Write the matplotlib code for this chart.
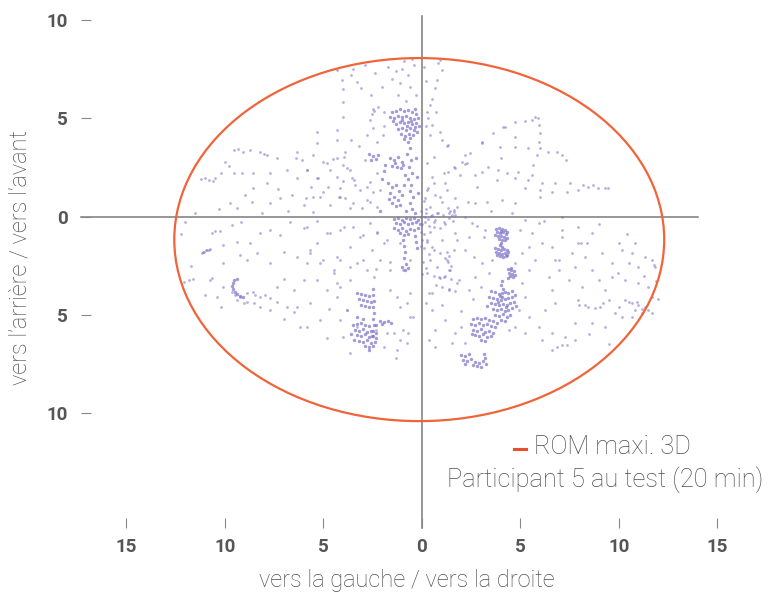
import matplotlib
matplotlib.use("Agg")
import matplotlib.pyplot as plt
from matplotlib.patches import Ellipse
from matplotlib.lines import Line2D

plt.rcParams['font.family'] = ['Roboto', 'DejaVu Sans']

# ---------------- data (in chart units) ----------------
x_ticks = [-15, -10, -5, 0, 5, 10, 15]
x_tick_labels = ['15', '10', '5', '0', '5', '10', '15']
y_ticks = [-10, -5, 0, 5, 10]
y_tick_labels = ['10', '5', '0', '5', '10']

rom_center = (-0.13, -1.17)
rom_width = 24.87
rom_height = 18.48

pts_top = [(-4.3,7.45),(-4.05,6.95),(-3.98,6.5),(-3.6,7.2),(-3.3,6.85),(-3.1,6.55),(-3.98,5.85),(-2.6,6.2),
           (-2.4,7.3),(-2.0,6.6),(-1.7,7.6),(-1.5,7.0),(-1.3,7.4),(-1.1,6.8),(-0.9,7.9),(-0.7,7.2),(-0.6,6.6),
           (-0.4,7.7),(-0.3,6.2),(-1.2,6.2),(-0.8,5.9),(-2.2,5.6),(-1.9,5.3),(0.94,7.96),(0.84,7.8),(1.02,7.45),
           (0.77,6.95),(0.69,6.52),(0.52,6.0),(0.43,5.67),(0.26,5.32),(0.33,5.0),(0.52,4.66),(0.43,4.15),
           (-2.5,5.5),(-2.45,5.35),(-2.55,5.2),(-3.5,7.5),(-2.9,7.7),(-1.0,7.5),(-0.5,8.0),(0.1,7.6),(0.2,6.9),
           (-5.32,4.32),(-4.3,4.4),(-3.98,5.08),(-2.61,4.91),(-2.5,4.5),(-2.78,4.15),(-2.27,3.8),(-3.2,3.6),
           (-3.6,3.9),(-1.95,4.15),(-1.9,4.6),(0.2,4.6),(0.7,5.3),(0.9,4.3),(1.0,3.9)]

pts_upper_left = [(-9.55,3.4),(-9.35,3.45),(-9.1,3.3),(-8.7,3.38),(-8.2,3.3),(-7.86,3.13),(-7.35,2.97),
                  (-6.33,3.3),(-6.4,3.0),(-5.32,3.74),(-4.3,3.89),(-5.5,3.13),(-5.83,2.37),(-6.84,2.37),
                  (-7.69,2.2),(-8.55,2.2),(-9.13,2.2),(-9.55,2.2),(-10.2,2.2),(-10.5,1.96),(-10.8,1.86),
                  (-10.6,1.8),(-9.97,2.79),(-9.8,2.6),(-9.72,0.69),(-9.4,0.43),(-8.62,0.75),(-7.69,0.69),
                  (-7.18,0.94),(-6.6,1.09),(-5.9,0.94),(-5.5,1.01),(-5.0,1.26),(-4.75,1.52),(-4.14,1.45),
                  (-8.55,1.45),(-7.86,1.7),(-6.33,1.96),(-5.32,1.96),(-4.64,2.37),(-4.3,2.97),(-3.88,3.3),
                  (-3.98,2.62),(-3.63,2.37),(-3.54,1.96),(-3.38,1.6),(-3.98,1.8),(-4.22,1.01),(-3.9,0.94),
                  (-3.47,0.69),(-3.04,0.43),(-2.61,0.75),(-2.46,1.26),(-2.8,1.5),(-11.2,1.9),(-11.0,1.95),
                  (-10.3,0.4),(-11.5,0.2),(-12.0,-0.3),(-8.0,3.2),(-6.1,2.9),(-5.0,2.8),(-4.5,2.95),
                  (-5.83,2.37),(-5.25,1.96),(-5.6,1.53),(-4.8,2.71),(-4.3,2.03),(-3.8,2.46),(-3.46,1.87),
                  (-4.14,1.02),(-3.63,0.42),(-3.12,1.36),(-2.78,0.85),(-2.61,1.78),(-2.27,2.2),(-2.1,1.36),
                  (-2.27,0.51),(-2.86,2.88),(-3.97,3.05),(-5.15,1.02),(-4.65,0.59),(-6.0,0.59),(-5.5,0.25),
                  (-6.8,0.3),(-8.1,0.2),(-9.0,1.1),(-7.3,1.4)]

pts_lower_left = [(-11.07,-1.79),(-10.9,-1.7),(-10.75,-1.67),(-11.15,-1.87),(-10.65,-0.82),(-10.5,-0.75),
                  (-10.25,-0.75),(-9.63,-0.43),(-9.2,-0.3),(-10.07,-1.45),(-9.38,-1.28),(-8.7,-1.35),
                  (-8.2,-0.85),(-7.7,-0.7),(-7.18,-0.94),(-6.67,-0.3),(-6.0,-0.6),(-5.33,-0.2),(-4.8,-0.85),
                  (-4.15,-0.7),(-3.47,-0.52),(-3.0,-0.95),(-2.27,-0.77),(-1.75,-1.2),(-1.09,-1.35),
                  (-10.07,-2.37),(-9.21,-1.96),(-8.85,-2.2),(-8.37,-1.86),(-7.69,-2.37),(-7.0,-1.79),
                  (-6.33,-2.05),(-5.66,-1.7),(-5.83,-2.37),(-5.0,-2.21),(-4.3,-2.05),(-4.48,-2.7),
                  (-3.63,-2.55),(-3.0,-2.2),(-2.3,-2.65),(-1.6,-2.3),(-0.94,-2.72),(-0.6,-2.2),
                  (-12.09,-3.32),(-11.83,-3.25),(-11.6,-3.2),(-10.74,-3.23),(-10.65,-3.1),(-9.63,-3.83),
                  (-9.47,-4.0),(-9.21,-4.1),(-8.87,-3.9),(-8.55,-3.83),(-8.45,-4.0),(-8.2,-4.1),(-8.87,-4.33),
                  (-8.54,-4.42),(-7.95,-4.0),(-7.69,-4.15),(-7.35,-4.33),(-7.35,-3.57),(-7.0,-3.2),
                  (-6.5,-3.74),(-6.33,-4.6),(-5.66,-4.42),(-5.83,-5.6),(-5.16,-5.27),(-4.8,-3.74),
                  (-4.3,-4.07),(-3.8,-4.76),(-5.33,-3.25),(-6.0,-3.25),(-4.72,-4.68),(-6.84,-4.6),
                  (-7.69,-4.76),(-8.2,-4.6),(-9.04,-4.42),(-9.38,-4.25),(-6.5,-4.84),(-10.07,-3.57),
                  (-10.4,-4.07),(-1.77,-5.94),(-2.3,-5.77),(-3.3,-5.6),(-0.94,-5.77),(-0.6,-5.1),
                  (-1.26,-6.8),(-0.77,-6.45),(-1.09,-4.6),(-4.3,-3.4),(-4.14,-3.6),(-3.63,-3.23),
                  (-2.45,-3.06),(-1.6,-3.74),(-1.26,-4.07),(-0.75,-4.42),(-0.6,-3.9),(-0.43,-5.1),
                  (-1.43,-5.94),(-1.09,-6.28),(-1.94,-6.62),(-3.63,-6.96),(-3.98,-6.11),(-4.14,-5.27),
                  (-3.8,-4.76),(-0.68,-5.94),(-5.83,-0.52),(-5.32,-1.36),(-4.65,-0.86),(-3.97,-0.52),
                  (-3.63,-1.53),(-3.12,-1.02),(-2.61,-0.35),(-2.27,-0.86),(-2.52,-1.7),(-1.92,-1.36),
                  (-4.14,-2.21),(-3.29,-2.38),(-2.78,-2.72),(-2.1,-2.21),(-1.6,-2.72),(-5.15,-2.38),
                  (-4.48,-2.89),(-5.66,-1.87),(-11.1,-1.8),(-10.95,-1.72),(-10.8,-1.68),(-12.2,-0.9),
                  (-11.7,-2.5),(-11.0,-4.0),(-10.2,-4.6),(-7.0,-5.2),(-6.2,-5.6),(-4.8,-6.2),(-1.3,-7.2)]

pts_center = [(0.26,1.35),(0.6,1.7),(0.94,1.02),(1.28,1.36),(1.62,0.34),(1.78,0.51),(1.7,0.08),(0.43,0.51),
              (0.77,0.17),(0.17,0.0),(0.6,-0.52),(1.11,-0.27),(0.26,-1.19),(0.6,-1.7),(0.94,-1.87),
              (1.28,-2.21),(0.77,-2.55),(0.43,-2.21),(1.45,-2.72),(1.11,-3.06),(0.26,-2.89),(1.62,-1.7),
              (1.79,-1.19),(0.51,2.03),(1.11,2.2),(1.62,2.54),(0.26,2.71),(0.6,3.05),(1.2,1.7),
              (0.15,-0.3),(0.3,-0.1),(0.45,0.05),(0.2,0.4),(0.1,0.8),(0.35,-0.5),(0.1,-0.9),(0.25,-1.3),
              (0.1,-1.6),(0.35,-1.9),(0.05,-2.3),(0.2,-2.6),(0.0,-2.9),(1.3,-1.8),(1.4,-2.0),(1.35,-2.3),
              (1.5,-2.5),(1.4,-2.7),(1.2,-2.1),(0.6,-3.0),(0.9,-3.1),(1.2,-3.0),(1.5,-3.2),(1.8,-3.4),
              (0.7,-3.5),(1.0,-3.6),(1.4,-3.7),(1.7,-3.8),(0.5,-3.9),(0.2,0.2),(0.5,0.1),(0.8,0.2),
              (1.1,0.1),(1.4,0.2),(1.6,-0.2),(1.2,-0.4),(0.9,-0.6),(0.6,-0.3),(0.4,-0.8),(1.45,0.3),
              (1.55,0.1),(1.65,0.25),(-0.05,0.3),(-0.05,0.0),(0.0,-0.4),(-0.05,-0.8),(0.0,-1.2),(-0.05,-1.5),
              (0.69,-0.18),(1.36,-0.09),(2.21,-0.01),(2.55,-0.35),(3.22,-0.69),(3.14,-1.03),(2.38,-1.03),
              (1.7,-0.86),(1.02,-1.2),(0.52,-1.54),(2.21,-1.7),(2.63,-2.04),(3.05,-2.38),(3.56,-2.21),
              (3.39,-2.89),(2.72,-3.06),(2.38,-3.74),(1.87,-3.23),(1.36,-3.74),(0.85,-3.06),(0.34,-3.91),
              (0.52,-4.76),(1.19,-5.27),(0.69,-5.77),(1.7,-5.94),(1.53,-6.45),(0.69,-6.62),(2.21,-6.45),
              (0.34,-6.28),(0.2,-4.4),(1.0,-4.5),(2.0,-4.8),(2.6,-4.2),(3.0,-3.6),(2.0,-5.6)]

pts_right = [(5.76,5.08),(5.9,5.0),(5.59,4.9),(5.25,4.86),(4.75,4.83),(4.24,4.57),(3.63,4.25),(3.06,3.8),
             (5.96,4.66),(6.0,4.25),(5.96,3.8),(6.0,3.48),(5.85,3.13),(5.66,2.62),(6.86,3.3),(7.12,3.13),
             (7.3,2.88),(6.42,3.3),(9.47,1.45),(9.31,1.47),(8.96,1.45),(8.7,1.6),(8.2,1.6),(7.54,1.7),
             (6.78,1.7),(6.1,1.7),(5.4,1.86),(4.75,1.96),(3.89,2.37),(3.38,2.53),(2.21,3.13),(2.04,2.79),
             (2.2,2.7),(2.3,2.75),(1.35,3.64),(1.28,3.6),(4.14,4.57),(4.75,4.06),(3.98,3.55),(4.75,3.55),
             (5.4,3.48),(3.05,3.74),(2.46,3.23),(1.7,2.47),(1.35,2.28),(1.95,2.11),(2.72,2.11),(3.06,2.28),
             (3.82,1.86),(4.33,2.2),(4.9,2.28),(5.59,2.11),(5.25,1.45),(6.02,1.35),(6.6,1.26),(7.37,1.26),
             (7.95,1.35),(8.45,1.52),(3.31,0.75),(4.07,0.84),(4.75,0.69),(6.02,1.01),(1.7,0.94),(2.36,0.75),
             (2.72,0.69),(0.69,1.09),(1.02,0.75),(1.35,0.43),(0.33,1.45),(0.18,0.94),(4.0,3.0),(2.8,1.5),
             (4.75,-2.38),(5.09,-1.87),(5.43,-1.53),(5.0,-0.69),(5.6,-0.86),(5.93,-0.35),(5.25,-0.18),
             (6.1,-1.36),(5.76,-2.21),(5.43,-2.72),(5.09,-3.4),(5.26,-4.07),(4.92,-4.76),(5.43,-5.1),
             (4.75,-5.6),(4.41,-5.77),(5.26,-5.94),(5.93,-5.6),(6.1,-6.28),(6.6,-5.94),(6.27,-4.76),
             (6.78,-4.42),(6.6,-3.74),(6.44,-3.06),(6.95,-2.72),(6.78,-2.21),(6.6,-1.53),(7.12,-1.03),
             (7.12,-0.69),(7.95,-1.36),(8.1,-1.36),(8.37,-1.36),(7.62,-1.87),(8.28,-2.04),(7.79,-2.55),
             (8.63,-2.72),(7.45,-3.23),(8.12,-3.57),(7.95,-4.25),(8.28,-4.5),(8.46,-4.58),(8.8,-4.67),
             (9.06,-4.58),(9.48,-4.25),(9.31,-3.74),(8.97,-3.23),(9.65,-3.06),(9.98,-2.89),(9.65,-2.38),
             (10.16,-1.7),(10.67,-1.87),(11.35,-2.04),(11.7,-2.21),(11.77,-2.47),(11.85,-2.55),(11.0,-2.55),
             (10.5,-2.38),(10.33,-3.23),(11.0,-3.4),(11.5,-3.57),(11.68,-4.07),(10.33,-4.25),(10.5,-4.33),
             (10.67,-4.42),(11.0,-4.5),(11.35,-4.58),(11.5,-4.76),(11.18,-4.93),(10.84,-4.76),(10.0,-4.58),
             (9.82,-4.93),(10.16,-5.1),(10.67,-5.1),(11.68,-4.93),(9.31,-5.6),(8.63,-5.43),(7.79,-5.43),
             (7.28,-6.11),(6.86,-6.62),(7.11,-6.55),(7.37,-6.55),(6.6,-6.79),(7.79,-6.28),(6.95,-2.21),
             (9.14,-1.87),(7.95,-0.52),(8.63,-0.86),(7.12,0.0),(10.0,-1.36),(10.84,-1.36),(9.0,-0.4),
             (10.4,-0.9),(11.3,-3.0),(12.0,-4.2),(11.9,-3.3),(8.0,-4.5),(9.2,-4.4),(10.9,-4.35),(11.2,-4.7),
             (8.5,-6.0),(9.5,-6.5),(6.2,-0.2),(4.6,0.2),(3.5,0.3),(2.8,-0.5)]

blob_top = [(-1.5,5.3),(-1.3,5.4),(-1.1,5.5),(-0.9,5.35),(-0.7,5.45),(-0.5,5.3),(-0.3,5.2),(-1.4,5.0),
            (-1.2,5.1),(-1.0,5.05),(-0.8,5.1),(-0.6,5.0),(-0.4,4.95),(-0.2,5.0),(-1.3,4.7),(-1.1,4.8),
            (-0.9,4.75),(-0.7,4.8),(-0.5,4.7),(-0.3,4.75),(-0.15,4.6),(-1.2,4.45),(-1.0,4.5),(-0.8,4.4),
            (-0.6,4.5),(-0.4,4.4),(-0.25,4.3),(-1.05,4.2),(-0.85,4.1),(-0.65,4.2),(-0.45,4.15),(-0.9,3.95),
            (-0.6,4.0),(-1.6,5.05),(-1.45,4.85),(-0.35,5.5),(-1.0,4.9),(-0.55,4.85),(-0.75,4.6),(-0.35,4.55)]

blob_column = [(-2.7,3.2),(-2.5,3.1),(-2.35,2.95),(-2.6,2.9),(-2.2,3.15),(-1.6,3.0),(-1.4,2.9),(-1.2,3.05),
               (-1.0,2.8),(-1.5,2.6),(-1.25,2.5),(-1.05,2.45),(-1.35,2.75),(-0.95,2.65),(-1.7,1.7),(-1.5,1.5),
               (-1.3,1.6),(-1.15,1.3),(-1.6,1.2),(-1.4,1.0),(-1.2,0.85),(-1.5,0.7),(-1.3,0.55),(-1.1,0.6),
               (-1.65,0.9),(-1.0,1.1),(-0.7,3.8),(-0.6,3.5),(-0.75,3.2),(-0.55,2.9),(-0.65,2.5),(-0.5,2.2),
               (-0.7,1.9),(-0.55,1.6),(-0.6,1.3),(-0.45,1.0),(-0.6,0.7),(-0.5,0.4),(-0.35,0.2),(-0.3,3.0),
               (-0.25,2.0),(-0.2,1.2),(-0.85,2.1),(-0.9,1.6),(-0.8,0.3),(-1.9,2.3),(-2.0,1.9),(-1.85,2.65),
               (-2.1,0.3)]

blob_origin = [(-1.4,-0.1),(-1.2,-0.05),(-1.0,-0.15),(-0.8,-0.05),(-0.6,-0.1),(-0.4,-0.05),(-0.2,-0.15),
               (-1.3,-0.35),(-1.1,-0.4),(-0.9,-0.3),(-0.7,-0.4),(-0.5,-0.35),(-0.3,-0.3),(-0.1,-0.4),
               (-1.4,-0.6),(-1.2,-0.7),(-1.0,-0.6),(-0.8,-0.75),(-0.6,-0.65),(-0.4,-0.7),(-0.2,-0.6),
               (-1.1,-0.85),(-0.9,-0.95),(-0.7,-0.9),(-0.35,-1.0),(-0.3,-1.3),(-0.25,-1.6),(-0.95,-1.2),
               (-0.9,-1.5),(-0.85,-1.8),(-0.9,-2.1),(-0.8,-2.4),(-0.85,-2.7),(-1.0,-2.55),(-0.7,-2.6)]

blob_right_top = [(3.75,-0.65),(3.9,-0.6),(4.05,-0.65),(4.2,-0.7),(4.35,-0.8),(3.8,-0.8),(3.95,-0.85),
                  (4.1,-0.8),(4.25,-0.9),(3.7,-0.95),(3.85,-1.0),(4.0,-1.0),(4.15,-1.05),(4.3,-1.1),
                  (3.9,-1.15),(4.05,-1.2),(4.2,-1.2),(4.0,-0.75),(4.0,-1.35),(3.95,-1.45),(4.05,-1.55),
                  (3.7,-1.6),(3.85,-1.65),(4.0,-1.7),(4.15,-1.65),(4.3,-1.7),(4.4,-1.8),(3.75,-1.8),
                  (3.9,-1.85),(4.05,-1.9),(4.2,-1.85),(4.35,-1.95),(3.95,-2.0),(4.1,-2.05),(4.25,-2.0),
                  (3.8,-1.95),(4.4,-2.65),(4.55,-2.7),(4.7,-2.75),(4.45,-2.85),(4.6,-2.9),(4.75,-2.95),
                  (4.5,-3.0),(4.65,-3.05),(4.4,-3.1),(4.55,-2.6)]

blob_right_mid = [(4.05,-3.3),(4.0,-3.5),(4.1,-3.7),(4.05,-3.9),(3.95,-4.05),(3.5,-3.8),(3.7,-3.85),
                  (3.9,-3.95),(4.2,-3.85),(4.4,-3.9),(4.6,-3.8),(3.4,-4.1),(3.6,-4.15),(3.8,-4.2),(4.0,-4.25),
                  (4.2,-4.2),(4.4,-4.15),(4.6,-4.1),(4.75,-4.0),(3.5,-4.4),(3.7,-4.45),(3.9,-4.5),(4.1,-4.45),
                  (4.3,-4.5),(4.5,-4.4),(4.7,-4.35),(3.6,-4.7),(3.8,-4.75),(4.0,-4.7),(4.2,-4.8),(4.4,-4.75),
                  (4.6,-4.65),(3.7,-5.0),(3.9,-5.05),(4.1,-4.95),(4.3,-5.1),(4.5,-5.0),(4.0,-5.25),(4.2,-5.3),
                  (3.3,-4.55),(4.8,-4.55),(3.85,-4.35),(4.25,-4.6),(4.05,-4.1)]

blob_right_low = [(2.6,-5.2),(2.8,-5.15),(3.0,-5.2),(3.2,-5.15),(3.4,-5.25),(3.6,-5.3),(2.5,-5.45),(2.7,-5.5),
                  (2.9,-5.4),(3.1,-5.5),(3.3,-5.45),(3.5,-5.55),(3.7,-5.6),(2.6,-5.75),(2.8,-5.8),(3.0,-5.7),
                  (3.2,-5.85),(3.4,-5.8),(3.6,-5.9),(2.7,-6.05),(2.9,-6.1),(3.1,-6.0),(3.3,-6.15),(3.5,-6.1),
                  (3.0,-6.3),(3.2,-6.35),(3.8,-5.4),(2.55,-6.0),(2.0,-7.05),(2.2,-7.1),(2.4,-7.0),(2.1,-7.3),
                  (2.3,-7.35),(2.5,-7.25),(2.7,-7.4),(2.9,-7.45),(3.1,-7.35),(3.25,-7.5),(2.6,-7.55),
                  (2.8,-7.6),(3.0,-7.65),(3.2,-7.2),(3.15,-7.0),(2.2,-7.5)]

blob_left_low = [(-2.5,-3.7),(-2.5,-4.0),(-2.45,-4.3),(-2.5,-4.6),(-2.45,-4.9),(-2.5,-5.2),(-2.45,-5.5),
                 (-2.5,-5.8),(-2.55,-6.1),(-3.3,-3.9),(-3.1,-3.95),(-2.9,-4.0),(-2.7,-4.05),(-3.2,-4.2),
                 (-3.0,-4.25),(-2.8,-4.3),(-2.6,-4.35),(-3.1,-4.5),(-2.9,-4.55),(-2.7,-4.6),(-3.5,-5.5),
                 (-3.3,-5.45),(-3.1,-5.4),(-2.9,-5.5),(-2.7,-5.55),(-2.3,-5.5),(-3.4,-5.75),(-3.2,-5.8),
                 (-3.0,-5.7),(-2.8,-5.85),(-2.6,-5.8),(-2.35,-5.9),(-3.3,-6.05),(-3.1,-6.1),(-2.9,-6.0),
                 (-2.7,-6.15),(-2.5,-6.1),(-2.3,-6.2),(-3.2,-6.35),(-3.0,-6.4),(-2.8,-6.3),(-2.6,-6.45),
                 (-2.4,-6.4),(-2.9,-6.6),(-2.7,-6.65),(-2.5,-6.6),(-3.6,-6.0),(-3.45,-6.3),(-3.3,-5.1),
                 (-3.0,-5.2),(-2.7,-6.8),(-2.1,-5.3),(-1.9,-5.35),(-1.7,-5.3),(-1.55,-5.4),(-2.0,-5.45),
                 (-9.6,-3.4),(-9.65,-3.55),(-9.6,-3.7),(-9.5,-3.85),(-9.4,-3.95),(-9.25,-4.05),(-9.1,-4.1),
                 (-9.55,-3.25),(-9.4,-3.2)]

x_label = "vers la gauche / vers la droite"
y_label = "vers l\u2019arri\u00e8re / vers l\u2019avant"
legend_line1 = "ROM maxi. 3D"
legend_line2 = "Participant 5 au test (20 min)"

# ---------------- figure ----------------
W, H = 776, 598
fig = plt.figure(figsize=(W / 100, H / 100), dpi=100)
ax = fig.add_axes([81 / W, (H - 528) / H, (W - 81) / W, 523 / H])
ax.set_xlim(-17.3, 17.98)
ax.set_ylim(-15.85, 10.77)
for s in ax.spines.values():
    s.set_visible(False)

grey_tick = '#555555'
line_grey = '#7a7a7a'
pt_color = '#7b70c9'

sparse = pts_top + pts_upper_left + pts_lower_left + pts_center + pts_right
blobs = blob_top + blob_column + blob_origin + blob_right_top + blob_right_mid + blob_right_low + blob_left_low

ax.scatter([p[0] for p in sparse], [p[1] for p in sparse], s=4, color=pt_color, alpha=0.55,
           linewidths=0, zorder=2)
ax.scatter([p[0] for p in blobs], [p[1] for p in blobs], s=6, color=pt_color, alpha=0.7,
           linewidths=0, zorder=2)

# axes cross
ax.plot([-17.3, 14.0], [0, 0], color=line_grey, lw=1.1, zorder=1, clip_on=False)
ax.plot([0, 0], [-15.85, 10.2], color=line_grey, lw=1.1, zorder=1, clip_on=False)

# ROM ellipse
ax.add_patch(Ellipse(rom_center, rom_width, rom_height, fill=False, ec='#f0643a', lw=1.6, zorder=3))

# ticks
ax.set_xticks(x_ticks)
ax.set_xticklabels(x_tick_labels)
ax.set_yticks(y_ticks)
ax.set_yticklabels(y_tick_labels)
ax.tick_params(axis='both', direction='in', length=7, width=0.8, color='#888888',
               labelsize=13.5, labelcolor=grey_tick)
ax.tick_params(axis='x', pad=7)
ax.tick_params(axis='y', pad=9.5)
for lab in ax.get_xticklabels() + ax.get_yticklabels():
    lab.set_fontweight('bold')

label_color = '#4f4f4f'
fig.text(407 / W, 1 - 580 / H, x_label, ha='center', va='center', fontsize=17,
         fontweight='light', color=label_color)
fig.text(20 / W, 1 - 258 / H, y_label, ha='center', va='center', rotation=90, fontsize=17,
         fontweight='light', color=label_color)

# legend-like annotation
fig.add_artist(Line2D([514 / W, 526 / W], [1 - 449 / H, 1 - 449 / H], color='#e8502a', lw=2.2))
fig.text(612 / W, 1 - 447 / H, legend_line1, ha='center', va='center', fontsize=18.3,
         fontweight='light', color=label_color)
fig.text(605.5 / W, 1 - 480 / H, legend_line2, ha='center', va='center', fontsize=18.3,
         fontweight='light', color=label_color)

fig.savefig('out.png', dpi=100)
